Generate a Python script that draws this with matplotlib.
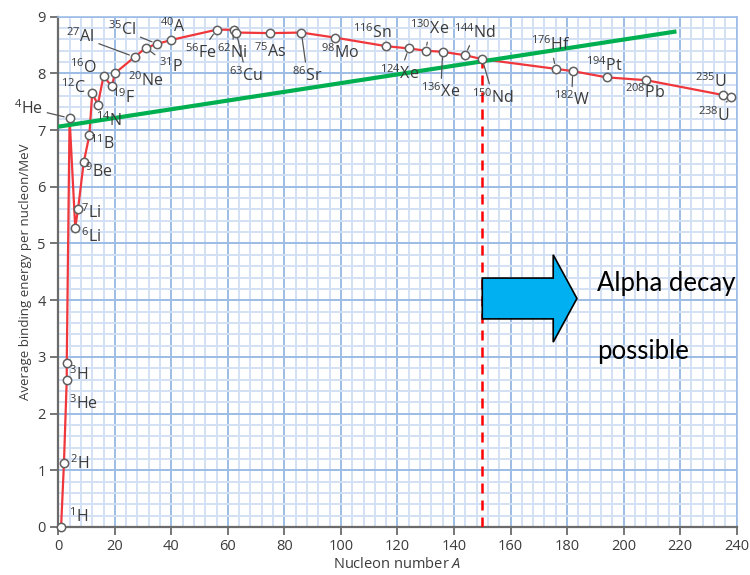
import numpy as np
import matplotlib
matplotlib.use("Agg")
import matplotlib.pyplot as plt
from matplotlib.patches import FancyArrow
from matplotlib.ticker import MultipleLocator

plt.rcParams['font.family'] = ['Open Sans', 'DejaVu Sans']
plt.rcParams['mathtext.fontset'] = 'custom'
plt.rcParams['mathtext.rm'] = 'Open Sans'
plt.rcParams['mathtext.it'] = 'Open Sans:italic'

# nucleon number, binding energy per nucleon (MeV), element, in curve order
mass = [1, 2, 3, 3, 4, 6, 7, 9, 11, 12, 14, 16, 19, 20, 27, 31, 35, 40,
        56, 62, 63, 75, 86, 98, 116, 124, 130, 136, 144, 150,
        176, 182, 194, 208, 235, 238]
energy = [0.0, 1.12, 2.60, 2.90, 7.21, 5.28, 5.61, 6.43, 6.91, 7.65, 7.45, 7.95,
          7.77, 8.00, 8.29, 8.45, 8.52, 8.59, 8.77, 8.77, 8.72, 8.71, 8.72, 8.63,
          8.48, 8.44, 8.40, 8.38, 8.32, 8.25, 8.08, 8.04, 7.93, 7.88, 7.62, 7.58]
element = ['H', 'H', 'He', 'H', 'He', 'Li', 'Li', 'Be', 'B', 'C', 'N', 'O',
           'F', 'Ne', 'Al', 'P', 'Cl', 'A', 'Fe', 'Ni', 'Cu', 'As', 'Sr', 'Mo',
           'Sn', 'Xe', 'Xe', 'Xe', 'Nd', 'Nd', 'Hf', 'W', 'Pt', 'Pb', 'U', 'U']

# label offsets from the marker in pixels (dx right, dy up), and leader-line flag
label_dx = [17, 16, 17, 12, -41, 16, 13, 15, 13, -19, 11, -20, 12, 31, -54, 25, -35, 1,
            -16, -1, 10, 0, 6, 5, -14, -9, 4, -2, 10, 11, -5, -1, -2, -1, -11, -17]
label_dy = [10, 0, -24, -12, 10, -9, -4, -9, -8, 6, -16, 9, -11, -7, 20, -19, 14, 13,
            -23, -23, -43, -19, -43, -15, 14, -25, 22, -40, 23, -38, 24, -29, 12, -12, 13, -18]
leader = [0, 0, 0, 0, 1, 0, 0, 0, 0, 0, 0, 0, 0, 0, 1, 1, 1, 0,
          1, 1, 1, 0, 1, 0, 0, 1, 1, 1, 1, 1, 1, 1, 0, 0, 0, 1]

# straight line drawn across the plot and the alpha decay threshold
green_a = [0, 218.7]
green_be = [7.06, 8.74]
threshold_a = 150

fig = plt.figure(figsize=(7.5, 5.75), dpi=100)
ax = fig.add_axes([0.0777, 0.0835, 0.9045, 0.8875])

ax.set_xlim(0, 240)
ax.set_ylim(0, 9)
ax.xaxis.set_major_locator(MultipleLocator(20))
ax.xaxis.set_minor_locator(MultipleLocator(4))
ax.yaxis.set_major_locator(MultipleLocator(1))
ax.yaxis.set_minor_locator(MultipleLocator(0.2))
ax.grid(which='minor', color='#d3e0f4', lw=1.4, zorder=0)
ax.grid(which='major', color='#9dbde6', lw=1.4, zorder=0)
ax.set_axisbelow(True)

for s in ['left', 'bottom']:
    ax.spines[s].set_color('#6b6b6b')
    ax.spines[s].set_linewidth(1.6)
for s in ['top', 'right']:
    ax.spines[s].set_color('#9dbde6')
    ax.spines[s].set_linewidth(1.2)
ax.tick_params(which='major', direction='out', length=6, width=1.3, color='#6b6b6b',
               labelsize=10.5, labelcolor='#3c3c3c', pad=3)
ax.tick_params(which='minor', length=0)

ax.set_xlabel(r'Nucleon number $A$', fontsize=10.5, color='#3c3c3c', labelpad=2)
ax.set_ylabel('Average binding energy per nucleon/MeV', fontsize=9.5, color='#3c3c3c', labelpad=4)

ax.plot(mass, energy, color='#f0373c', lw=1.6, zorder=3)
ax.plot(mass, energy, 'o', ms=6, mfc='white', mec='#606060', mew=1.1, zorder=5,
        clip_on=False)

for a, e, el, dx, dy, ld in zip(mass, energy, element, label_dx, label_dy, leader):
    ap = None
    if ld:
        ap = dict(arrowstyle='-', color='#555555', lw=0.9, shrinkA=1, shrinkB=4)
    ax.annotate(r'$^{%d}$%s' % (a, el), xy=(a, e), xytext=(dx * 0.72, dy * 0.72),
                textcoords='offset points', ha='center', va='center',
                fontsize=11.5, color='#3a3a3a', arrowprops=ap, zorder=6)

ax.plot(green_a, green_be, color='#00b050', lw=3, zorder=4, solid_capstyle='butt')

thr_be = energy[mass.index(threshold_a)]
ax.vlines(threshold_a, 0, thr_be, colors='#ff0000', lw=1.8, linestyles=(0, (4, 2.8)), zorder=4)

arrow = FancyArrow(threshold_a, 4.03, 33.5, 0, width=0.72, head_width=1.54,
                   head_length=8.4, length_includes_head=True,
                   facecolor='#00b0f0', edgecolor='black', lw=1.2, zorder=6)
ax.add_patch(arrow)
ax.text(190.5, 4.3, 'Alpha decay', fontsize=18.5, family='Lato', color='black',
        ha='left', va='center', zorder=6)
ax.text(190.5, 3.1, 'possible', fontsize=18.5, family='Lato', color='black',
        ha='left', va='center', zorder=6)

fig.savefig('out.png', dpi=100)
